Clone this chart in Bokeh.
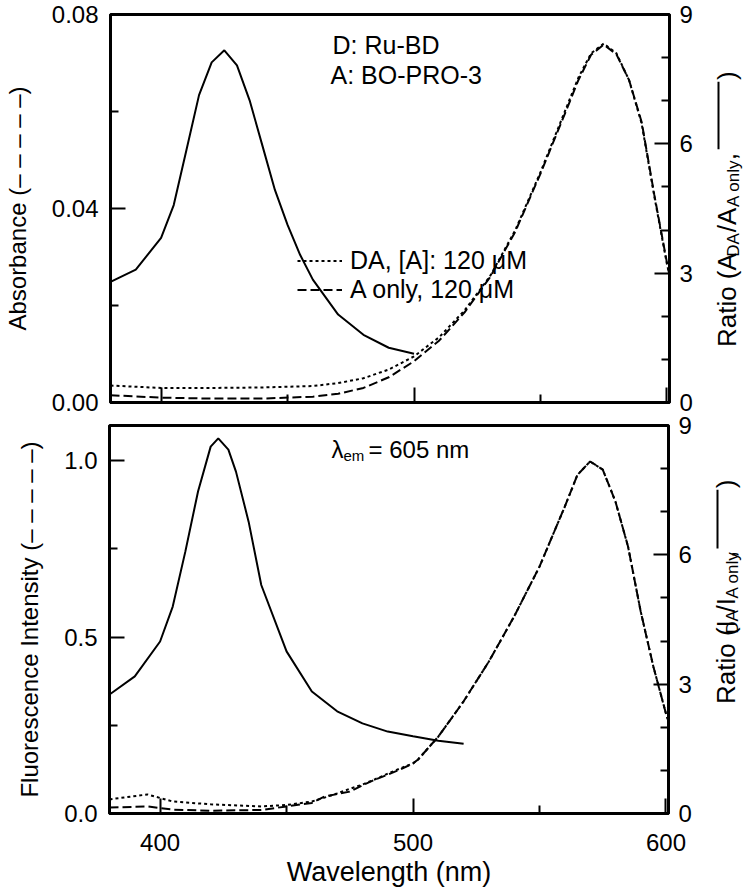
import math
from bokeh.plotting import figure
from bokeh.models import Range1d, LinearAxis, FixedTicker, Label, Legend, LegendItem, PrintfTickFormatter
from bokeh.layouts import column, row
from bokeh.core.properties import value
from bokeh.embed import file_html
from bokeh.resources import INLINE

FONT = "Liberation Sans"

# ---------------- data ----------------
# top panel: ratio A_DA / A_A only (solid, right axis)
top_ratio_x = [380, 390, 400, 405, 410, 415, 420, 425, 430, 435, 440, 445, 450, 455, 460, 470, 480, 490, 500]
top_ratio_y = [2.80, 3.08, 3.82, 4.58, 5.85, 7.13, 7.89, 8.17, 7.82, 7.01, 5.97, 4.93, 4.12, 3.42, 2.85, 2.04, 1.57, 1.27, 1.13]

# top panel: absorbance (left axis)
abs_x = [380, 400, 420, 440, 460, 470, 480, 490, 500, 510, 520, 530, 540, 550, 560, 565, 570, 575, 580, 585, 590, 595, 600, 601]
abs_da = [0.0035, 0.0030, 0.0030, 0.0031, 0.0034, 0.0040, 0.0050, 0.0068, 0.0095, 0.0135, 0.0190, 0.0260, 0.0355,
          0.0475, 0.0605, 0.0670, 0.0720, 0.0740, 0.0720, 0.0665, 0.0575, 0.0425, 0.0285, 0.0262]
abs_aonly = [0.0015, 0.0010, 0.0008, 0.0008, 0.0012, 0.0018, 0.0030, 0.0052, 0.0085, 0.0128, 0.0186, 0.0258, 0.0352,
             0.0472, 0.0600, 0.0665, 0.0717, 0.0738, 0.0718, 0.0665, 0.0578, 0.0428, 0.0288, 0.0262]

# bottom panel: ratio I_DA / I_A only (solid, right axis)
bot_ratio_x = [380, 390, 400, 405, 410, 415, 420, 423, 427, 430, 435, 440, 450, 460, 470, 480, 490, 500, 510, 520]
bot_ratio_y = [2.76, 3.18, 3.99, 4.80, 6.08, 7.47, 8.51, 8.70, 8.44, 7.93, 6.77, 5.30, 3.76, 2.83, 2.37, 2.09, 1.90, 1.79, 1.69, 1.62]

# bottom panel: fluorescence intensity (left axis)
fl_x = [380, 395, 405, 420, 440, 450, 460, 465, 470, 475, 480, 485, 490, 495, 500, 502, 510, 520, 530, 540, 550, 560,
        565, 570, 575, 580, 585, 590, 595, 600, 601]
fl_da = [0.040, 0.054, 0.034, 0.026, 0.020, 0.024, 0.034, 0.045, 0.057, 0.070, 0.082, 0.097, 0.113, 0.128, 0.142, 0.153,
         0.218, 0.318, 0.431, 0.559, 0.700, 0.870, 0.960, 0.998, 0.975, 0.885, 0.757, 0.573, 0.417, 0.283, 0.262]
fl_aonly = [0.017, 0.020, 0.011, 0.008, 0.010, 0.020, 0.030, 0.048, 0.055, 0.062, 0.080, 0.096, 0.110, 0.125, 0.142, 0.153,
            0.218, 0.318, 0.431, 0.559, 0.700, 0.870, 0.960, 0.998, 0.975, 0.885, 0.757, 0.573, 0.417, 0.283, 0.262]

x_ticks = [400, 500, 600]
x_minor = [450, 550]
abs_ticks = [0.0, 0.04, 0.08]
abs_minor = [0.02, 0.06]
fl_ticks = [0.0, 0.5, 1.0]
fl_minor = [0.25, 0.75]
ratio_ticks = [0, 3, 6, 9]
ratio_minor = [1, 2, 4, 5, 7, 8]

# ---------------- layout constants ----------------
X0, X1 = 380, 601
FW = 559
BL, BR = 109, 28
SIDE_W = 47
TOP_BT, TOP_FH, TOP_BB = 14, 388, 12
BOT_BT, BOT_FH, BOT_BB = 11, 388, 71
ABS_MAX, FL_MAX, R_MAX = 0.08, 1.1, 9
TOP_H = TOP_BT + TOP_FH + TOP_BB
BOT_H = BOT_BT + BOT_FH + BOT_BB
LABEL_SHIFT = 8  # Label boxes sit lower than their nominal baseline


def dx(fx):
    # fx: pixels from frame left
    return X0 + fx * (X1 - X0) / FW


WID = {' ': 278, '(': 333, ')': 333, '/': 278, ',': 278, 'A': 667, 'D': 722, 'R': 722, 'I': 278, 'a': 556,
       't': 278, 'i': 222, 'o': 556, 'n': 556, 'l': 222, 'y': 500}


def tw(s, size):
    return sum(WID.get(c, 556) for c in s) * size / 1000.0


def style_axis(ax, size="24px"):
    ax.axis_line_width = 3
    ax.axis_line_color = "black"
    ax.major_tick_in = 15
    ax.major_tick_out = 0
    ax.minor_tick_in = 8
    ax.minor_tick_out = 0
    ax.major_tick_line_width = 2
    ax.minor_tick_line_width = 2
    ax.major_tick_line_color = "black"
    ax.minor_tick_line_color = "black"
    ax.major_label_text_font = FONT
    ax.major_label_text_font_size = size
    ax.major_label_text_color = "black"
    ax.axis_label_text_font = FONT
    ax.axis_label_text_font_style = "normal"
    ax.axis_label_text_color = "black"


def make_fig(fh, ymax, top_border, bottom_border):
    p = figure(frame_width=FW, frame_height=fh, x_range=Range1d(X0, X1), y_range=Range1d(0, ymax),
               output_backend="svg", toolbar_location=None, min_border_left=BL, min_border_right=BR,
               min_border_top=top_border, min_border_bottom=bottom_border)
    p.extra_y_ranges = {"ratio": Range1d(0, R_MAX)}
    p.xgrid.visible = False
    p.ygrid.visible = False
    p.outline_line_color = "black"
    p.outline_line_width = 3
    p.background_fill_color = "white"
    p.border_fill_color = "white"
    p.xaxis.ticker = FixedTicker(ticks=x_ticks, minor_ticks=x_minor)
    style_axis(p.xaxis[0])
    style_axis(p.yaxis[0])
    p.yaxis[0].major_label_standoff = 12
    p.yaxis[0].axis_label_standoff = 18
    p.yaxis[0].axis_label_text_font_size = "24px"
    rax = LinearAxis(y_range_name="ratio", ticker=FixedTicker(ticks=ratio_ticks, minor_ticks=ratio_minor))
    style_axis(rax)
    rax.major_label_standoff = 10
    p.add_layout(rax, "right")
    return p


def side_fig(h, center_y, pieces, main=26, dash_len=72):
    s = figure(width=SIDE_W, height=h, x_range=Range1d(0, SIDE_W), y_range=Range1d(0, h),
               output_backend="svg", toolbar_location=None, min_border=0,
               x_axis_location=None, y_axis_location=None)
    s.xgrid.visible = False
    s.ygrid.visible = False
    s.outline_line_color = None
    s.background_fill_color = "white"
    s.border_fill_color = "white"
    gap = 2.5
    total = sum(tw(t, sz) + gap for t, sz, _ in pieces) + dash_len + 4 + tw(")", main)
    pos = center_y - total / 2.0
    base_x = 29
    for t, sz, sub in pieces:
        s.text(x=[base_x + (7 if sub else 0)], y=[pos], text=[t], angle=math.pi / 2,
               text_font=value(FONT), text_font_size=value(f"{sz}px"), text_align="left",
               text_baseline="alphabetic", text_color="black")
        pos += tw(t, sz) + gap
    # solid-line key, then closing parenthesis
    s.line(x=[base_x - 8, base_x - 8], y=[pos + 2, pos + 2 + dash_len], line_color="black", line_width=2)
    pos += dash_len + 4
    s.text(x=[base_x], y=[pos], text=[")"], angle=math.pi / 2,
           text_font=value(FONT), text_font_size=value(f"{main}px"), text_align="left",
           text_baseline="alphabetic", text_color="black")
    return s


def add_text(p, fx, fy_from_top, fh, ymax, txt, size):
    fy = fy_from_top - LABEL_SHIFT
    p.add_layout(Label(x=dx(fx), y=(fh - fy) * ymax / fh, text=txt, text_font=FONT,
                       text_font_size=size, text_align="left", text_baseline="alphabetic",
                       text_color="black"))


# ---------------- top panel ----------------
pt = make_fig(TOP_FH, ABS_MAX, TOP_BT, TOP_BB)
pt.yaxis[0].ticker = FixedTicker(ticks=abs_ticks, minor_ticks=abs_minor)
pt.yaxis[0].formatter = PrintfTickFormatter(format="%.2f")
pt.yaxis[0].axis_label = "Absorbance (– – – – –)"
pt.xaxis[0].major_label_overrides = {400: "", 500: "", 600: ""}
pt.xaxis[0].major_label_text_font_size = "1px"
pt.xaxis[0].major_label_standoff = 0

r_da_t = pt.line(abs_x, abs_da, line_color="black", line_width=2, line_dash="3 3")
r_ao_t = pt.line(abs_x, abs_aonly, line_color="black", line_width=2, line_dash="9 4")
pt.line(top_ratio_x, top_ratio_y, y_range_name="ratio", line_color="black", line_width=2)

leg = Legend(items=[LegendItem(label="DA, [A]: 120 μM", renderers=[r_da_t]),
                    LegendItem(label="A only, 120 μM", renderers=[r_ao_t])],
             location=(187, 98), border_line_color=None, background_fill_alpha=0,
             label_text_font=FONT, label_text_font_size="25px", label_text_color="black",
             glyph_width=45, glyph_height=25, label_height=25, label_standoff=8,
             spacing=0, padding=0, margin=0)
pt.add_layout(leg)

# frame top is at page y 14, frame left at page x 113
add_text(pt, 335 - 113, 52 - 14, TOP_FH, ABS_MAX, "D: Ru-BD", "25px")
add_text(pt, 333 - 113, 82 - 14, TOP_FH, ABS_MAX, "A: BO-PRO-3", "25px")

st = side_fig(TOP_H, TOP_BB + TOP_FH / 2.0,
              [("Ratio (A", 26, False), ("DA", 17, True), ("/A", 26, False), ("A only", 17, True),
               (",", 26, False)])

# ---------------- bottom panel ----------------
pb = make_fig(BOT_FH, FL_MAX, BOT_BT, BOT_BB)
pb.yaxis[0].ticker = FixedTicker(ticks=fl_ticks, minor_ticks=fl_minor)
pb.yaxis[0].formatter = PrintfTickFormatter(format="%.1f")
pb.yaxis[0].axis_label = "Fluorescence Intensity (– – – – –)"
pb.xaxis[0].axis_label = "Wavelength (nm)"
pb.xaxis[0].axis_label_text_font_size = "27px"
pb.xaxis[0].major_label_standoff = 20
pb.xaxis[0].axis_label_standoff = 3

pb.line(fl_x, fl_da, line_color="black", line_width=2, line_dash="3 3")
pb.line(fl_x, fl_aonly, line_color="black", line_width=2, line_dash="9 4")
pb.line(bot_ratio_x, bot_ratio_y, y_range_name="ratio", line_color="black", line_width=2)

# frame top is at page y 425
add_text(pb, 335 - 113, 457 - 425, BOT_FH, FL_MAX, "λ", "24px")
add_text(pb, 347 - 113, 463 - 425, BOT_FH, FL_MAX, "em", "15px")
add_text(pb, 372 - 113, 457 - 425, BOT_FH, FL_MAX, "= 605 nm", "24px")

sb = side_fig(BOT_H, BOT_BB + BOT_FH / 2.0,
              [("Ratio (I", 26, False), ("DA", 17, True), ("/I", 26, False), ("A only", 17, True),
               (",", 26, False)])

layout = column(row(pt, st, spacing=0), row(pb, sb, spacing=0), spacing=0)
open("out.html", "w").write(file_html(layout, INLINE))
